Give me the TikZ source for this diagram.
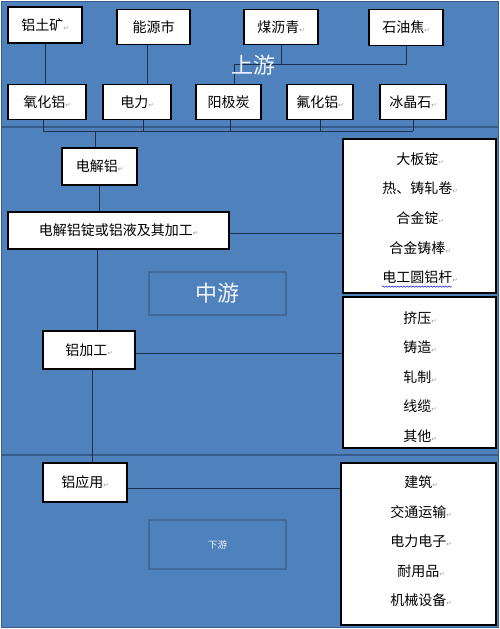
\documentclass[tikz,border=0pt]{standalone}
\usepackage{fontspec}
\setmainfont{Noto Sans CJK SC}
\newfontfamily\symfont{DejaVu Sans}
\definecolor{panelblue}{HTML}{4F81BD}
\definecolor{panelrim}{HTML}{385D8A}
\definecolor{linkblue}{HTML}{1B2F4E}
\definecolor{tagrim}{HTML}{41699B}
\definecolor{wavyblue}{HTML}{3B3BD6}
\usetikzlibrary{positioning, calc, decorations.pathmorphing}
\newcommand{\pmark}{{\symfont\fontsize{6.5}{7}\selectfont\color{black!40}↵}}
\tikzset{
  panel/.style={fill=panelblue, draw=panelrim, line width=1.5pt},
  chainbox/.style={draw, fill=white, line width=1.3pt, inner sep=0pt, font=\fontsize{14}{14}\selectfont},
  listbox/.style={draw, fill=white, line width=1.3pt},
  item/.style={inner sep=0pt, font=\fontsize{14}{14}\selectfont},
  tagbox/.style={draw=tagrim, line width=1.5pt, text=white!92!panelblue},
  link/.style={draw=linkblue, line width=0.9pt}
}

\begin{document}
\begin{tikzpicture}[x=1pt, y=-1pt]
        \useasboundingbox (0,0) rectangle (500,629);
        \draw[panel] (1.5,1.5) rectangle (498.5,127);
        \draw[panel] (1.5,127) rectangle (498.5,455);
        \draw[panel] (1.5,455) rectangle (498.5,627.5);
        % upstream: raw materials and energy
        \node[chainbox, minimum width=74pt, minimum height=36pt] (bauxite) at (45,25) {铝土矿\pmark};
        \node[chainbox, minimum width=73pt, minimum height=35pt] (energy) at (153.5,27) {能源市};
        \node[chainbox, minimum width=74pt, minimum height=35pt] (pitch) at (281,27) {煤沥青\pmark};
        \node[chainbox, minimum width=74pt, minimum height=36pt] (coke) at (406,27.5) {石油焦\pmark};
        \node[chainbox, minimum width=78pt, minimum height=35pt] (alumina) at (47,102) {氧化铝\pmark};
        \node[chainbox, minimum width=68pt, minimum height=35pt] (power) at (137,102) {电力\pmark};
        \node[chainbox, minimum width=65pt, minimum height=35pt] (anode) at (228.5,102) {阳极炭};
        \node[chainbox, minimum width=66pt, minimum height=35pt] (alf) at (320,102) {氟化铝\pmark};
        \node[chainbox, minimum width=66pt, minimum height=35pt] (cryo) at (413,102) {冰晶石\pmark};
        \draw[link] (bauxite.south) -- (alumina.north -| bauxite.south);
        \draw[link] ($(energy.south)+(-6.5,0)$) coordinate (energytap) -- (energytap |- power.north);
        \coordinate (carbonjoin) at ($(anode.north)+(5.5,-19)$);
        \draw[link] (pitch.south) |- (carbonjoin);
        \draw[link] (coke.south) |- (carbonjoin) -- (carbonjoin |- anode.north);
        \node[font=\fontsize{22}{22}\selectfont, text=white!92!panelblue] (upstream) at (253,65) {上游};
        % the five inputs meet on one bus
        \coordinate (bus) at (0,131);
        \draw[link] ($(alumina.south)+(-4,0)$) coordinate (aluminatap) -- (aluminatap |- bus);
        \draw[link] ($(power.south)+(6,0)$) -- ($(power.south |- bus)+(6,0)$);
        \draw[link] ($(anode.south)+(1.5,0)$) -- ($(anode.south |- bus)+(1.5,0)$);
        \draw[link] (alf.south) -- (alf.south |- bus);
        \draw[link] (cryo.south) coordinate (cryotap) -- (cryotap |- bus);
        \draw[link] (aluminatap |- bus) -- (cryotap |- bus);
        % midstream
        \node[chainbox, minimum width=75pt, minimum height=37pt] (electro) at (99.5,166.5) {电解铝\pmark};
        \node[chainbox, minimum width=221pt, minimum height=37pt] (ingot) at (118.5,230.5) {电解铝锭或铝液及其加工\pmark};
        \node[chainbox, minimum width=92pt, minimum height=38pt] (process) at (89,350) {铝加工\pmark};
        \draw[link] ($(electro.north)+(-4.5,0)$) coordinate (electrotap) -- (electrotap |- bus);
        \draw[link] (electro.south) -- (electro.south |- ingot.north);
        \node[listbox, minimum width=153pt, minimum height=154pt] (castlist) at (419.5,216) {};
        \node[item] (slab) at (420,159) {大板锭\pmark};
        \node[item] (coil) at (420,188.5) {热、铸轧卷\pmark};
        \node[item] (alloyingot) at (420,218.5) {合金锭\pmark};
        \node[item] (alloybar) at (420,248) {合金铸棒\pmark};
        \node[item] (rod) at (420,277.5) {电工圆铝杆\pmark};
        \draw[wavyblue, line width=0.6pt, decorate, decoration={snake, amplitude=0.7pt, segment length=3pt}]
          ($(rod.south west)+(0,2.5)$) -- ($(rod.south east)+(-6,2.5)$);
        \draw[link] ($(ingot.east)+(0,2.5)$) -- ($(ingot.east -| castlist.west)+(0,2.5)$);
        \node[tagbox, minimum width=137pt, minimum height=43pt, font=\fontsize{22}{22}\selectfont] (midstream) at (217.5,293.5) {\raisebox{-4pt}{中游}};
        \draw[link] ($(process.north)+(8,0)$) coordinate (proctap) -- (proctap |- ingot.south);
        \node[listbox, minimum width=153pt, minimum height=151pt] (formlist) at (419.5,372.5) {};
        \node[item] (extrude) at (420,318) {挤压\pmark};
        \node[item] (casting) at (420,347.5) {铸造\pmark};
        \node[item] (rolling) at (420,377) {轧制\pmark};
        \node[item] (cable) at (420,406.5) {线缆\pmark};
        \node[item] (otherform) at (420,436) {其他\pmark};
        \draw[link] ($(process.east)+(0,3)$) -- ($(process.east -| formlist.west)+(0,3)$);
        % downstream
        \node[chainbox, minimum width=84pt, minimum height=39pt] (apply) at (85,482.5) {铝应用\pmark};
        \draw[link] ($(process.south)+(3,0)$) coordinate (usetap) -- (usetap |- apply.north);
        \node[listbox, minimum width=155pt, minimum height=162pt] (uselist) at (418.5,544) {};
        \node[item] (building) at (421,482) {建筑\pmark};
        \node[item] (transport) at (421,512) {交通运输\pmark};
        \node[item] (electric) at (421,541.5) {电力电子\pmark};
        \node[item] (durable) at (421,571) {耐用品\pmark};
        \node[item] (machinery) at (421,600.5) {机械设备\pmark};
        \draw[link] ($(apply.east)+(0,5.5)$) -- ($(apply.east -| uselist.west)+(0,5.5)$);
        \node[tagbox, minimum width=137pt, minimum height=49pt, font=\fontsize{9.5}{10}\selectfont] (downstream) at (217.5,544.5) {下游};
      \end{tikzpicture}
\end{document}
